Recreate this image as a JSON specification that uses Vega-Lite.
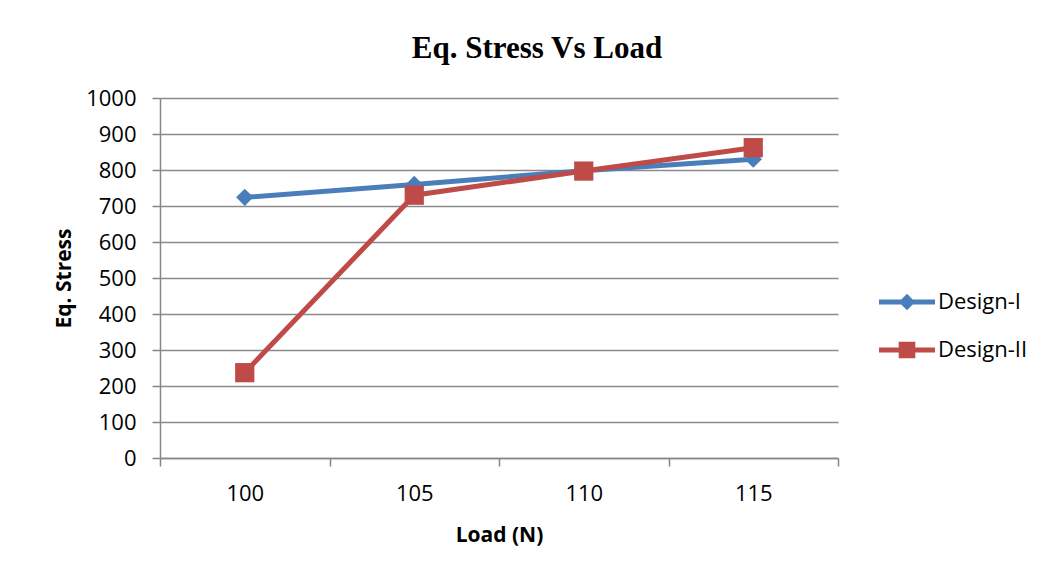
{
  "$schema": "https://vega.github.io/schema/vega-lite/v6.json",
  "width": 678,
  "height": 360,
  "autosize": {"type": "none"},
  "padding": {"left": 160, "top": 98, "right": 207, "bottom": 122},
  "background": "white",
  "title": {
    "text": "Eq. Stress Vs Load",
    "font": "Liberation Serif",
    "fontSize": 31,
    "fontWeight": "bold",
    "color": "#000000",
    "anchor": "middle",
    "dx": 38,
    "baseline": "alphabetic",
    "offset": -2
  },
  "data": {
    "values": [
      {"load": "100", "stress": 724, "series": "Design-I"},
      {"load": "105", "stress": 760, "series": "Design-I"},
      {"load": "110", "stress": 798, "series": "Design-I"},
      {"load": "115", "stress": 830, "series": "Design-I"},
      {"load": "100", "stress": 237, "series": "Design-II"},
      {"load": "105", "stress": 730, "series": "Design-II"},
      {"load": "110", "stress": 797, "series": "Design-II"},
      {"load": "115", "stress": 862, "series": "Design-II"}
    ]
  },
  "encoding": {
    "x": {
      "field": "load",
      "type": "ordinal",
      "scale": {"type": "band", "paddingInner": 0, "paddingOuter": 0},
      "axis": {
        "title": "Load (N)",
        "labelAngle": 0,
        "tickBand": "extent",
        "tickSize": 8,
        "tickColor": "#868686",
        "tickWidth": 1.5,
        "domainColor": "#868686",
        "domainWidth": 1.5,
        "labelFont": "Open Sans",
        "labelFontSize": 22,
        "labelColor": "#000000",
        "labelPadding": 17,
        "titleFont": "Open Sans",
        "titleFontSize": 21,
        "titleFontWeight": "bold",
        "titleColor": "#000000",
        "titleBaseline": "alphabetic",
        "titleY": 83,
        "grid": false
      }
    },
    "y": {
      "field": "stress",
      "type": "quantitative",
      "scale": {"domain": [0, 1000], "nice": false},
      "axis": {
        "title": "Eq. Stress",
        "values": [0, 100, 200, 300, 400, 500, 600, 700, 800, 900, 1000],
        "format": "d",
        "tickSize": 8,
        "tickColor": "#868686",
        "tickWidth": 1.5,
        "domainColor": "#868686",
        "domainWidth": 1.5,
        "grid": true,
        "gridColor": "#8a8a8a",
        "gridWidth": 1.4,
        "labelFont": "Open Sans",
        "labelFontSize": 22,
        "labelColor": "#000000",
        "labelPadding": 16,
        "titleFont": "Open Sans",
        "titleFontSize": 21,
        "titleFontWeight": "bold",
        "titleColor": "#000000",
        "titleAngle": -90,
        "titleBaseline": "alphabetic",
        "titleX": -90,
        "titleY": 180
      }
    },
    "color": {
      "field": "series",
      "type": "nominal",
      "scale": {"domain": ["Design-I", "Design-II"], "range": ["#4a7ebb", "#be4b48"]},
      "legend": {
        "title": null,
        "orient": "none",
        "legendX": 736,
        "legendY": 193,
        "padding": 0,
        "symbolSize": 64,
        "symbolStrokeWidth": 0,
        "labelOffset": 20,
        "rowPadding": 26,
        "labelFont": "Open Sans",
        "labelFontSize": 22,
        "labelColor": "#000000",
        "encode": {
          "symbols": {
            "update": {
              "shape": {"signal": "datum.value === 'Design-I' ? 'M-7,-0.6 L7,-0.6 L7,0.6 L-7,0.6 Z M0,-2.05 L2.05,0 L0,2.05 L-2.05,0 Z' : 'M-7,-0.6 L7,-0.6 L7,0.6 L-7,0.6 Z M-2.08,-2.08 L2.08,-2.08 L2.08,2.08 L-2.08,2.08 Z'"},
              "fill": {"signal": "datum.value === 'Design-I' ? '#4a7ebb' : '#be4b48'"},
              "fillOpacity": {"value": 1},
              "opacity": {"value": 1},
              "strokeWidth": {"value": 0},
              "size": {"value": 64}
            }
          }
        }
      }
    }
  },
  "layer": [
    {
      "mark": {"type": "line", "strokeWidth": 5, "interpolate": "linear"}
    },
    {
      "transform": [{"filter": "datum.series === 'Design-I'"}],
      "mark": {"type": "point", "filled": true, "opacity": 1, "shape": "diamond", "size": 300}
    },
    {
      "transform": [{"filter": "datum.series === 'Design-II'"}],
      "mark": {"type": "point", "filled": true, "opacity": 1, "shape": "square", "size": 370}
    }
  ],
  "config": {
    "view": {"stroke": null}
  }
}
